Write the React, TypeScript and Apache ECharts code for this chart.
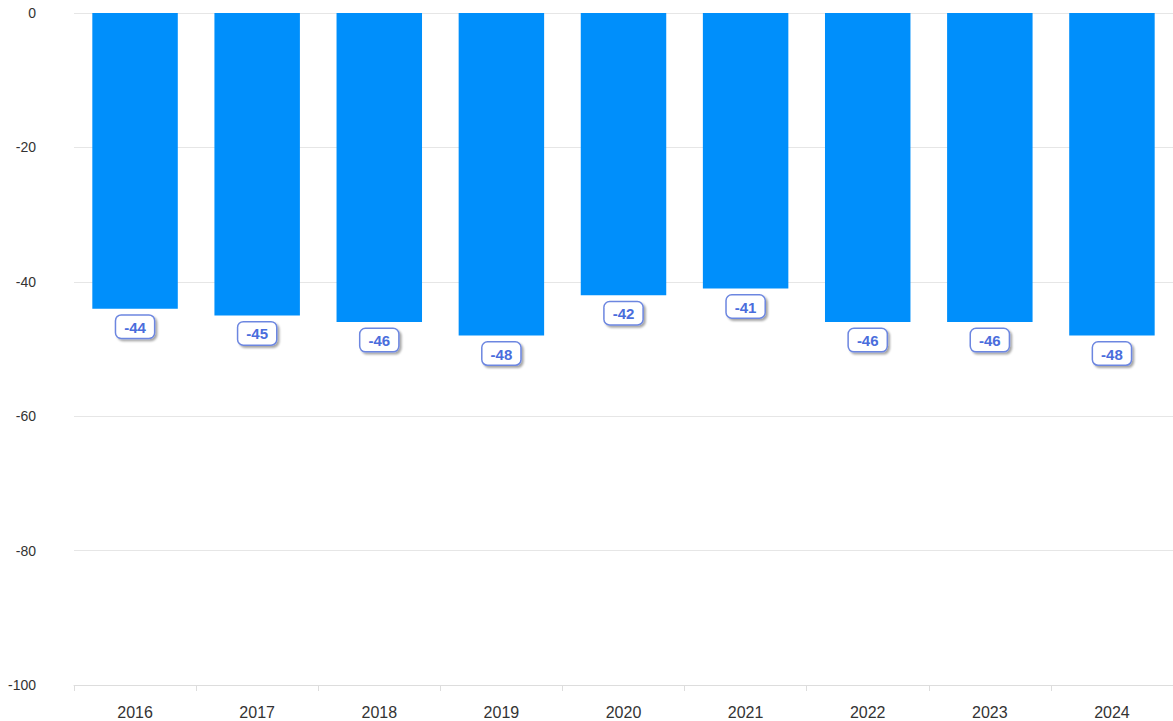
import React, { useEffect, useRef } from "react";
import * as echarts from "echarts";

const categories = ["2016", "2017", "2018", "2019", "2020", "2021", "2022", "2023", "2024"];
const values = [-44, -45, -46, -48, -42, -41, -46, -46, -48];

export default function App() {
  const ref = useRef<HTMLDivElement>(null);
  useEffect(() => {
    document.body.style.margin = "0";
    const chart = echarts.init(ref.current!, undefined, { renderer: "svg" });
    chart.setOption({
      animation: false,
      backgroundColor: "#ffffff",
      grid: { left: 74, right: 0, top: 13, bottom: 36, containLabel: false },
      xAxis: {
        type: "category",
        data: categories,
        position: "bottom",
        axisLine: { onZero: false, lineStyle: { color: "#dddddd", width: 1 } },
        axisTick: { show: true, length: 6, lineStyle: { color: "#dddddd" } },
        axisLabel: { color: "#333333", fontSize: 16, margin: 19, fontFamily: "Liberation Sans, Arial, sans-serif" },
      },
      yAxis: {
        type: "value",
        min: -100,
        max: 0,
        interval: 20,
        axisLine: { show: false },
        axisTick: { show: false },
        splitLine: { lineStyle: { color: "#e6e6e6", width: 1 } },
        axisLabel: { color: "#333333", fontSize: 14, margin: 38, fontFamily: "Liberation Sans, Arial, sans-serif" },
      },
      series: [
        {
          type: "bar",
          data: values,
          barCategoryGap: "30%",
          itemStyle: { color: "#008ffb" },
          label: {
            show: true,
            position: "bottom",
            distance: 7,
            color: "#4a6ddc",
            fontSize: 15,
            fontWeight: "bold",
            fontFamily: "Liberation Sans, Arial, sans-serif",
            backgroundColor: "#ffffff",
            borderColor: "#6c86e0",
            borderWidth: 1.5,
            borderRadius: 5,
            padding: [4, 8, 3, 8],
            shadowColor: "rgba(0,0,0,0.35)",
            shadowBlur: 2,
            shadowOffsetX: 2,
            shadowOffsetY: 2,
          },
        },
      ],
    });
    return () => chart.dispose();
  }, []);
  return <div ref={ref} style={{ width: 1173, height: 721 }} />;
}
